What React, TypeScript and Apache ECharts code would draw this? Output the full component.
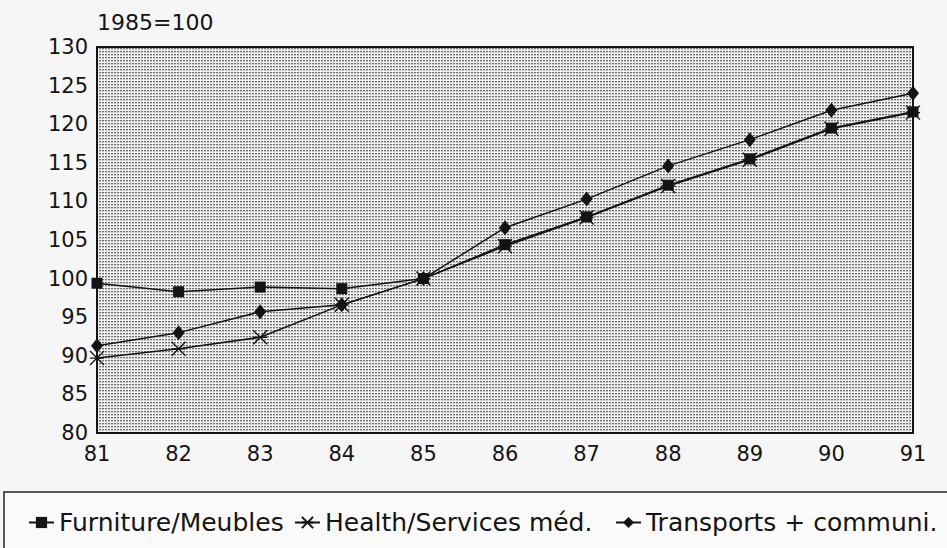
import React, { useEffect, useRef } from "react";
import * as echarts from "echarts";

const years = ["81", "82", "83", "84", "85", "86", "87", "88", "89", "90", "91"];
const furniture = [99.4, 98.3, 98.9, 98.7, 100, 104.4, 108.0, 112.1, 115.5, 119.5, 121.6];
const health = [89.7, 90.9, 92.4, 96.6, 100, 104.2, 107.9, 112.0, 115.4, 119.4, 121.5];
const transports = [91.3, 93.0, 95.7, 96.6, 100, 106.6, 110.3, 114.6, 118.0, 121.8, 124.0];
const seriesNames = ["Furniture/Meubles", "Health/Services méd.", "Transports + communi."];
const yAxisName = "1985=100";

const FONT = "'DejaVu Sans', 'Liberation Sans', sans-serif";
const INK = "#141414";

function makeDots() {
  const c = document.createElement("canvas");
  c.width = 3;
  c.height = 3;
  const ctx = c.getContext("2d")!;
  ctx.fillStyle = "#f1f1f1";
  ctx.fillRect(0, 0, 3, 3);
  ctx.fillStyle = "#6e6e6e";
  ctx.fillRect(0, 0, 2, 1);
  ctx.fillStyle = "#c6c6c6";
  ctx.fillRect(0, 1, 2, 1);
  return c;
}

export default function App() {
  const ref = useRef<HTMLDivElement>(null);
  useEffect(() => {
    document.body.style.margin = "0";
    const chart = echarts.init(ref.current!, null, { renderer: "svg" });
    const dots = makeDots();
    const legendBase = {
      top: 510,
      padding: 0,
      itemWidth: 25,
      itemHeight: 14,
      itemGap: 0,
      textStyle: { fontFamily: FONT, fontSize: 25, color: INK },
      inactiveColor: INK,
    };
    chart.setOption({
      animation: false,
      backgroundColor: "#f6f6f6",
      textStyle: { fontFamily: FONT },
      graphic: [
        {
          type: "rect",
          z: -1,
          shape: { x: 4, y: 492, width: 1000, height: 100 },
          style: { fill: "#fafafa", stroke: "#222", lineWidth: 1.5 },
        },
      ],
      legend: [
        { ...legendBase, left: 28, data: [seriesNames[0]] },
        { ...legendBase, left: 294, data: [seriesNames[1]] },
        { ...legendBase, left: 615, data: [seriesNames[2]] },
      ],
      grid: {
        left: 97,
        right: 34,
        top: 47,
        bottom: 115,
        show: true,
        backgroundColor: { image: dots, repeat: "repeat", imageWidth: 3, imageHeight: 3 },
        borderColor: INK,
        borderWidth: 2,
      },
      xAxis: {
        type: "category",
        data: years,
        boundaryGap: false,
        axisLine: { lineStyle: { color: INK, width: 2 } },
        axisTick: { show: false },
        axisLabel: { fontFamily: FONT, fontSize: 21, color: INK, margin: 10 },
        splitLine: { show: false },
      },
      yAxis: {
        type: "value",
        min: 80,
        max: 130,
        interval: 5,
        name: yAxisName,
        nameLocation: "end",
        nameGap: 25,
        nameTextStyle: {
          fontFamily: FONT,
          fontSize: 22,
          color: INK,
          align: "left",
          verticalAlign: "middle",
        },
        axisLine: { show: true, lineStyle: { color: INK, width: 2 } },
        axisTick: { show: false },
        axisLabel: { fontFamily: FONT, fontSize: 21, color: INK, margin: 9 },
        splitLine: { show: false },
      },
      series: [
        {
          name: seriesNames[0],
          type: "line",
          data: furniture,
          symbol: "rect",
          symbolSize: 11,
          lineStyle: { color: INK, width: 1.5 },
          itemStyle: { color: INK },
          z: 3,
        },
        {
          name: seriesNames[1],
          type: "line",
          data: health,
          symbol: "path://M0,0L10,10M10,0L0,10M0,5L10,5",
          symbolSize: 14,
          lineStyle: { color: INK, width: 1.5 },
          itemStyle: { color: INK, borderColor: INK, borderWidth: 1.4 },
          z: 4,
        },
        {
          name: seriesNames[2],
          type: "line",
          data: transports,
          symbol: "diamond",
          symbolSize: [12, 15],
          lineStyle: { color: INK, width: 1.5 },
          itemStyle: { color: INK },
          z: 5,
        },
      ],
    });
    return () => chart.dispose();
  }, []);
  return <div ref={ref} style={{ width: 947, height: 548 }} />;
}
